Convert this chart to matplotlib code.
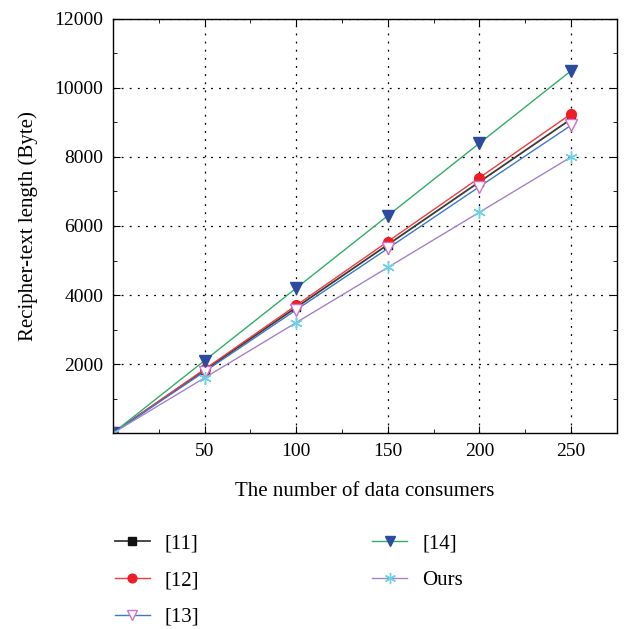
import numpy as np
import matplotlib.pyplot as plt
from matplotlib.ticker import MultipleLocator

plt.rcParams['font.family'] = ['Liberation Serif', 'DejaVu Serif']

# data
consumers = [0, 50, 100, 150, 200, 250]
ref11 = [0, 1820, 3640, 5460, 7280, 9100]
ref12 = [0, 1850, 3700, 5550, 7400, 9250]
ref13 = [0, 1780, 3570, 5350, 7140, 8920]
ref14 = [0, 2100, 4200, 6300, 8400, 10500]
ours = [0, 1600, 3200, 4800, 6400, 8000]

fig = plt.figure(figsize=(6.26, 6.29), dpi=100)
ax = fig.add_axes([0.1805, 0.3116, 0.805, 0.6582])

ax.plot(consumers, ref11, color='#3a3a3a', lw=1.3, marker='s', ms=6,
        mfc='#111111', mec='#111111', label='[11]')
ax.plot(consumers, ref12, color='#f03c3c', lw=1.0, marker='o', ms=7,
        mfc='#ee1c24', mec='#ee1c24', label='[12]')
ax.plot(consumers, ref13, color='#3d78c8', lw=1.0, marker='v', ms=8,
        mfc='white', mec='#d070c8', mew=1.0, label='[13]')
ax.plot(consumers, ref14, color='#2fae6a', lw=1.0, marker='v', ms=8,
        mfc='#2c4a9e', mec='#2c4a9e', label='[14]')
ax.plot(consumers, ours, color='#a482c8', lw=1.0, marker=(6, 2, 0), ms=9,
        mfc='#6fd0e4', mec='#6fd0e4', mew=1.0, label='Ours')

ax.set_xlim(0, 275)
ax.set_ylim(0, 12000)
ax.xaxis.set_minor_locator(MultipleLocator(25))
ax.yaxis.set_minor_locator(MultipleLocator(1000))
ax.set_xticks([50, 100, 150, 200, 250])
ax.set_yticks([2000, 4000, 6000, 8000, 10000, 12000])
ax.tick_params(which='both', direction='in', top=True, right=True, labelsize=14)
ax.tick_params(which='major', length=5, pad=7)
ax.tick_params(which='minor', length=3)
ax.grid(True, which='major', color='black', linestyle=(0, (1.5, 5)), linewidth=0.9)
for s in ax.spines.values():
    s.set_linewidth(1.0)

ax.set_xlabel('The number of data consumers', fontsize=15, labelpad=16)
ax.set_ylabel('Recipher-text length (Byte)', fontsize=15, labelpad=12)

fig.legend(loc='upper left', bbox_to_anchor=(0.153, 0.181), ncol=2, frameon=False,
           fontsize=15, handlelength=1.7, handletextpad=0.7, columnspacing=8.3,
           labelspacing=0.82, markerscale=0.9)

fig.savefig('out.png', dpi=100)
